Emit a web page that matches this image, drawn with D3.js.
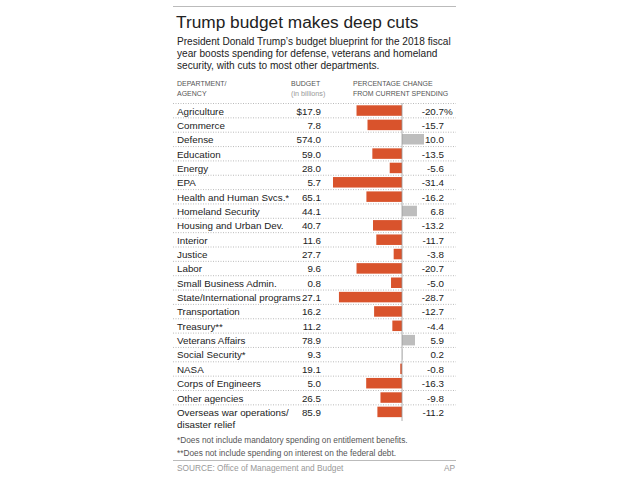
<!DOCTYPE html>
<html><head><meta charset="utf-8">
<script src="https://cdn.jsdelivr.net/npm/d3@7"></script>
<style>
body{margin:0;background:#fff;}
svg{display:block;font-family:"Liberation Sans",Arial,sans-serif;}
</style></head>
<body>
<script>
const departments = ["Agriculture","Commerce","Defense","Education","Energy","EPA","Health and Human Svcs.*","Homeland Security","Housing and Urban Dev.","Interior","Justice","Labor","Small Business Admin.","State/International programs","Transportation","Treasury**","Veterans Affairs","Social Security*","NASA","Corps of Engineers","Other agencies","Overseas war operations/\ndisaster relief"];
const budgets = [17.9,7.8,574.0,59.0,28.0,5.7,65.1,44.1,40.7,11.6,27.7,9.6,0.8,27.1,16.2,11.2,78.9,9.3,19.1,5.0,26.5,85.9];
const changes = [-20.7,-15.7,10.0,-13.5,-5.6,-31.4,-16.2,6.8,-13.2,-11.7,-3.8,-20.7,-5.0,-28.7,-12.7,-4.4,5.9,0.2,-0.8,-16.3,-9.8,-11.2];
const title = "Trump budget makes deep cuts";
const subtitle = ["President Donald Trump\u2019s budget blueprint for the 2018 fiscal","year boosts spending for defense, veterans and homeland","security, with cuts to most other departments."];
const footnotes = ["*Does not include mandatory spending on entitlement benefits.","**Does not include spending on interest on the federal debt."];
const source = "SOURCE: Office of Management and Budget";

const W=630,H=490, L=173, R=456;
const svg=d3.select("body").append("svg").attr("width",W).attr("height",H);

svg.append("line").attr("x1",L).attr("x2",R).attr("y1",6.5).attr("y2",6.5).attr("stroke","#bbb").attr("stroke-width",1);
svg.append("text").attr("x",176).attr("y",28).attr("font-size",17.3).attr("fill","#222").text(title);
svg.selectAll("text.sub").data(subtitle).join("text").attr("class","sub")
  .attr("x",177).attr("y",(d,i)=>44.5+i*12).attr("font-size",10.1).attr("fill","#222").text(d=>d);

const hdr=[{x:177,t:["DEPARTMENT/","AGENCY"],c:["#555","#555"],fs:[7,7]},
           {x:291,t:["BUDGET","(in billions)"],c:["#555","#999"],fs:[7,7.2]},
           {x:353,t:["PERCENTAGE CHANGE","FROM CURRENT SPENDING"],c:["#555","#555"],fs:[7,7]}];
hdr.forEach(h=>h.t.forEach((t,i)=>svg.append("text").attr("x",h.x).attr("y",86+i*9.5)
  .attr("font-size",h.fs[i]).attr("fill",h.c[i]).text(t)));

const top0=103, pitch=14.35;
const y=d3.scaleBand().domain(departments).range([top0,top0+pitch*22]).paddingInner(0).paddingOuter(0);
const x=d3.scaleLinear().domain([-31.4,10]).range([333,424]);

svg.selectAll("line.sep").data(departments).join("line").attr("class","sep")
  .attr("x1",L).attr("x2",R).attr("y1",d=>y(d)+0.5).attr("y2",d=>y(d)+0.5)
  .attr("stroke","#aaa").attr("stroke-width",0.8).attr("stroke-dasharray","1,1.5");

const bh=10.5;
svg.selectAll("rect.bar").data(departments).join("rect").attr("class","bar")
  .attr("x",(d,i)=>x(Math.min(0,changes[i])))
  .attr("width",(d,i)=>Math.abs(x(changes[i])-x(0)))
  .attr("y",d=>y(d)+2.3).attr("height",bh)
  .attr("fill",(d,i)=>changes[i]<0?"#d9532c":"#bdbdbd");

svg.append("line").attr("x1",x(0)).attr("x2",x(0)).attr("y1",top0).attr("y2",421).attr("stroke","#999").attr("stroke-width",0.8);

const rowBase=d=>y(d)+11.5;
svg.selectAll("text.name").data(departments).join("text").attr("class","name")
  .attr("x",177).attr("y",rowBase).attr("font-size",9.8).attr("fill","#222")
  .each(function(d){const parts=d.split("\n");const s=d3.select(this);
    parts.forEach((p,k)=>s.append("tspan").attr("x",177).attr("dy",k?12:0).text(p));});
svg.selectAll("text.bud").data(departments).join("text").attr("class","bud")
  .attr("x",321).attr("y",rowBase).attr("text-anchor","end").attr("font-size",9.8).attr("fill","#222")
  .text((d,i)=>(i===0?"$":"")+budgets[i].toFixed(1));
svg.selectAll("text.val").data(departments).join("text").attr("class","val")
  .attr("x",444).attr("y",rowBase).attr("text-anchor","end").attr("font-size",9.8).attr("fill","#222")
  .text((d,i)=>changes[i].toFixed(1));
svg.append("text").attr("x",444).attr("y",rowBase(departments[0])).attr("font-size",9.8).attr("fill","#222").text("%");

svg.selectAll("text.foot").data(footnotes).join("text").attr("class","foot")
  .attr("x",177).attr("y",(d,i)=>442.5+i*13).attr("font-size",8.3).attr("fill","#555").text(d=>d);
svg.append("line").attr("x1",L).attr("x2",R).attr("y1",460.5).attr("y2",460.5).attr("stroke","#bbb");
svg.append("text").attr("x",177).attr("y",471).attr("font-size",8.3).attr("fill","#999").text(source);
svg.append("text").attr("x",455).attr("y",471).attr("text-anchor","end").attr("font-size",8.3).attr("fill","#999").text("AP");
</script>
</body></html>
